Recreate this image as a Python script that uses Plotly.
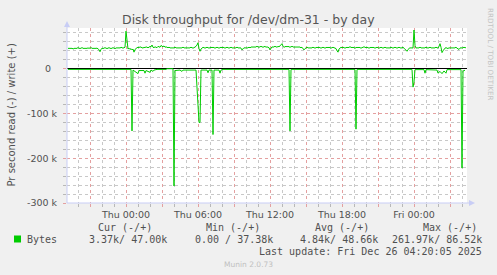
import plotly.graph_objects as go
import pandas as pd

W, H = 497, 275

# ---------------- data ----------------
write_start = "2025-12-24 19:10"
write_k = [
    46,45,46,45,46,44,45,46,45,46,47,46,45,46,47,46,45,46,45,46,
    46,45,46,47,46,45,46,45,46,46,45,42,38,43,46,45,46,47,46,45,
    46,47,46,45,46,47,46,45,46,47,46,47,46,48,47,46,47,48,84,58,
    44,46,43,45,42,44,37,43,46,47,48,47,49,48,47,46,48,47,49,48,
    47,48,50,49,53,48,47,49,48,47,50,49,48,52,50,49,51,48,49,48,
    47,48,47,46,47,46,47,48,47,46,47,46,47,46,47,48,47,46,47,46,
    47,46,47,48,47,46,47,48,50,53,58,45,39,44,47,48,47,46,47,48,
    47,46,47,48,47,48,47,46,47,48,47,46,47,48,47,48,47,46,47,48,
    47,46,47,48,47,46,47,46,47,48,47,46,47,46,42,45,47,46,47,46,
    47,48,47,48,49,48,49,48,49,50,49,48,49,50,49,48,49,50,48,49,
    48,47,42,47,49,48,49,50,49,48,50,49,51,53,56,50,48,49,50,49,
    50,49,48,49,50,49,48,49,48,49,48,49,48,47,48,46,42,45,47,48,
    47,46,47,46,47,48,47,46,47,48,47,48,47,46,47,48,47,46,47,48,
    47,48,47,46,47,48,47,46,45,40,37,44,47,48,47,48,47,46,47,48,
    47,48,49,48,47,48,47,46,47,48,47,48,47,46,47,48,49,48,47,48,
    47,46,47,48,47,48,47,46,47,48,47,46,47,48,47,46,47,48,47,46,
    47,46,47,48,47,46,47,48,47,46,47,48,47,46,47,48,46,43,41,39,
    43,46,47,46,47,46,86.52,52,46,47,46,47,48,47,46,47,46,47,48,47,
    46,47,48,47,46,47,46,47,48,47,46,50,56,48,36,40,44,46,47,46,
    45,47,46,47,46,47,46,47,48,46,44,43,46,47,46,47,48,47,47,
]

read_times = [
    "2025-12-24 19:10", "2025-12-24 22:20", "2025-12-24 22:25", "2025-12-24 22:55",
    "2025-12-24 23:00", "2025-12-25 00:25", "2025-12-25 00:30", "2025-12-25 00:35",
    "2025-12-25 01:00", "2025-12-25 01:05", "2025-12-25 01:30", "2025-12-25 01:35",
    "2025-12-25 01:40", "2025-12-25 02:00", "2025-12-25 02:05", "2025-12-25 02:15",
    "2025-12-25 02:20", "2025-12-25 02:35", "2025-12-25 03:20", "2025-12-25 03:25",
    "2025-12-25 03:55", "2025-12-25 04:00", "2025-12-25 04:05", "2025-12-25 04:30",
    "2025-12-25 04:40", "2025-12-25 04:45", "2025-12-25 05:50",
    "2025-12-25 06:05", "2025-12-25 06:10", "2025-12-25 06:15", "2025-12-25 06:45",
    "2025-12-25 06:50", "2025-12-25 06:55", "2025-12-25 07:10", "2025-12-25 07:15",
    "2025-12-25 07:20", "2025-12-25 07:45", "2025-12-25 07:50", "2025-12-25 07:55",
    "2025-12-25 08:05", "2025-12-25 13:35", "2025-12-25 13:40", "2025-12-25 13:45",
    "2025-12-25 19:05", "2025-12-25 19:10", "2025-12-25 19:15", "2025-12-25 23:50",
    "2025-12-25 23:55", "2025-12-26 00:00", "2025-12-26 00:05", "2025-12-26 00:50",
    "2025-12-26 00:55", "2025-12-26 01:00", "2025-12-26 01:55", "2025-12-26 02:00",
    "2025-12-26 02:10", "2025-12-26 02:20", "2025-12-26 02:30", "2025-12-26 02:40",
    "2025-12-26 02:45", "2025-12-26 03:55", "2025-12-26 04:00", "2025-12-26 04:05",
    "2025-12-26 04:15",
]
read_k = [
    -1.5, -1.5, 0, 0,
    -1.5, -1.5, -139, -3,
    -11, -4, -4, -10,
    -4, -8, -3, -6,
    -3, -1.5, -1.5, 0,
    0, -262, -4, -3,
    -6, -3, -3,
    -120, -120, -3, -3,
    -9, -3, -3, -147,
    -3, -3, -10, -3,
    -1.5, -1.5, -139, -1.5,
    -1.5, -135, -1.5, -1.5,
    -41, -30, -2, -2,
    -10, -2, -3, -10,
    -6, -11, -5, -10,
    -2, -2, -222, -5,
    -3.37,
]

major_tick_times = [
    "2025-12-24 21:00", "2025-12-25 00:00", "2025-12-25 03:00", "2025-12-25 06:00",
    "2025-12-25 09:00", "2025-12-25 12:00", "2025-12-25 15:00", "2025-12-25 18:00",
    "2025-12-25 21:00", "2025-12-26 00:00", "2025-12-26 03:00",
]
major_tick_labels = ["", "Thu 00:00", "", "Thu 06:00", "", "Thu 12:00", "",
                     "Thu 18:00", "", "Fri 00:00", ""]
x_range = ["2025-12-24 19:05", "2025-12-26 04:25"]

y_tick_vals = [-300000, -200000, -100000, 0]
y_tick_labels = ["-300 k", "-200 k", "-100 k", "0\u00a0\u00a0"]
y_range = [-300000, 91000]

series_name = "Bytes"
stat_headers = ["Cur (-/+)", "Min (-/+)", "Avg (-/+)", "Max (-/+)"]
stat_values = ["3.37k/ 47.00k", "0.00 / 37.38k", "4.84k/ 48.66k", "261.97k/ 86.52k"]
last_update = "Last update: Fri Dec 26 04:20:05 2025"

# ---------------- figure ----------------
GREEN = "#00CC00"
TXT = "#505050"
AXIS = "#c8cdf5"
MINOR_GRID = "#c8c8c8"
MAJOR_GRID = "#e4a0a0"

def px(x):
    return x / W

def py(y):
    return 1 - y / H

plot_l, plot_r, plot_t, plot_b = 67, 467, 28, 203

write_times = pd.date_range(start=write_start, periods=len(write_k), freq="5min")

fig = go.Figure()
fig.add_trace(go.Scatter(
    x=write_times, y=[v * 1000 for v in write_k], mode="lines",
    line=dict(color=GREEN, width=1), showlegend=False, hoverinfo="skip"))
fig.add_trace(go.Scatter(
    x=pd.to_datetime(read_times), y=[v * 1000 for v in read_k], mode="lines",
    line=dict(color=GREEN, width=1), showlegend=False, hoverinfo="skip"))

fig.update_layout(
    template="none",
    width=W, height=H, margin=dict(l=0, r=0, t=0, b=0, pad=0, autoexpand=False),
    paper_bgcolor="#F0F0F0", plot_bgcolor="#FFFFFF",
    font=dict(family="DejaVu Sans", size=9.5, color=TXT),
    xaxis=dict(
        domain=[px(plot_l), px(plot_r)], type="date", range=x_range,
        automargin=False,
        tickmode="array", tickvals=major_tick_times, ticktext=major_tick_labels,
        showgrid=True, gridcolor=MAJOR_GRID, griddash="dot", gridwidth=1,
        ticks="outside", ticklen=3, tickcolor=MAJOR_GRID, showline=False,
        zeroline=False, tickfont=dict(size=9.5, color=TXT),
        minor=dict(dtick=3600000, tick0="2025-12-24 00:00", showgrid=True,
                   gridcolor=MINOR_GRID, griddash="dot", gridwidth=1,
                   ticks="outside", ticklen=3, tickcolor="#b8b8b8"),
    ),
    yaxis=dict(
        domain=[py(plot_b), py(plot_t)], range=y_range,
        automargin=False,
        tickmode="array", tickvals=y_tick_vals, ticktext=y_tick_labels,
        showgrid=True, gridcolor=MAJOR_GRID, griddash="dot", gridwidth=1,
        ticks="outside", ticklen=3, tickcolor=MAJOR_GRID, showline=False,
        zeroline=True, zerolinecolor="#000000", zerolinewidth=1,
        tickfont=dict(size=9.5, color=TXT), ticklabelstandoff=4,
        minor=dict(dtick=20000, tick0=0, showgrid=True, gridcolor=MINOR_GRID,
                   griddash="dot", gridwidth=1, ticks="outside", ticklen=3,
                   tickcolor="#b8b8b8"),
    ),
)

shapes = [
    # axis lines
    dict(type="line", xref="paper", yref="paper", x0=px(plot_l), x1=px(plot_l),
         y0=py(plot_b), y1=py(23), line=dict(color=AXIS, width=1)),
    dict(type="line", xref="paper", yref="paper", x0=px(plot_l), x1=px(471),
         y0=py(plot_b), y1=py(plot_b), line=dict(color=AXIS, width=1)),
    # arrows
    dict(type="path", xref="paper", yref="paper",
         path=f"M {px(64)} {py(27)} L {px(70)} {py(27)} L {px(67)} {py(21)} Z",
         fillcolor=AXIS, line=dict(width=0)),
    dict(type="path", xref="paper", yref="paper",
         path=f"M {px(469)} {py(200)} L {px(469)} {py(206)} L {px(475)} {py(203)} Z",
         fillcolor=AXIS, line=dict(width=0)),
    # legend swatch
    dict(type="rect", xref="paper", yref="paper", x0=px(14), x1=px(21),
         y0=py(242.5), y1=py(235.5), fillcolor=GREEN, line=dict(width=0)),
]
fig.update_layout(shapes=shapes)

ann = []
def add_text(text, x, y, size, color=TXT, family="DejaVu Sans", xanchor="center",
             angle=0):
    ann.append(dict(text=text, x=px(x), y=py(y), xref="paper", yref="paper",
                    showarrow=False, xanchor=xanchor, yanchor="middle",
                    textangle=angle, borderpad=0,
                    font=dict(family=family, size=size, color=color)))

add_text("Disk throughput for /dev/dm-31 - by day", 248, 19, 12.5, color="#555555")
add_text("Pr second read (-) / write (+)", 11, 115.5, 10, angle=-90)
add_text("RRDTOOL / TOBI OETIKER", 490, 54, 7.2, color="#c4c4c4", angle=90)

MONO = "DejaVu Sans Mono"
header_centers = [125, 233, 342, 450]
for h, cx in zip(stat_headers, header_centers):
    add_text(h, cx, 227, 10, family=MONO)
add_text(series_name, 26, 239.5, 10, family=MONO, xanchor="left")
value_rights = [168, 274, 379, 483]
for v, rx in zip(stat_values, value_rights):
    add_text(v, rx, 239.5, 10, family=MONO, xanchor="right")
add_text(last_update, 483, 251.5, 10, family=MONO, xanchor="right")
add_text("Munin 2.0.73", 248, 264, 7.5, color="#c0c0c0")

fig.update_layout(annotations=ann)
fig.write_html("out.html")
